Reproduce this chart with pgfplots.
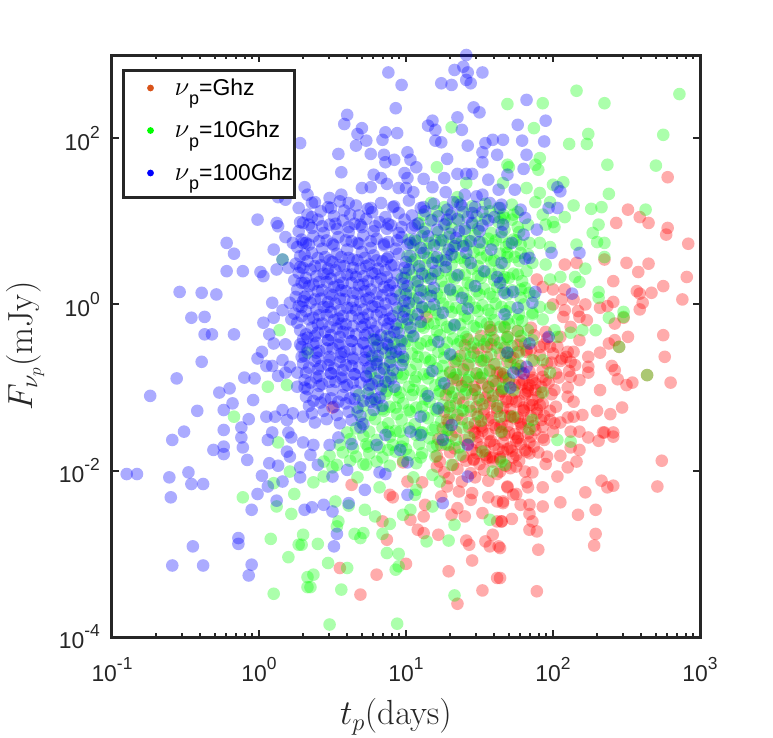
\RequirePackage{fix-cm}
\documentclass[border=0pt]{standalone}
\usepackage[no-math]{fontspec}
\setmainfont{Liberation Sans}
\usepackage{pgfplots}
\pgfplotsset{compat=1.18}
\usepackage{pgfplotstable}
\definecolor{axgray}{RGB}{38,38,38}
\definecolor{legred}{RGB}{217,83,25}
\newcommand{\tp}[1]{10\raisebox{12bp}{\fontsize{17.5}{17.5}\selectfont #1}}
\newcommand{\lsub}[1]{\raisebox{-9.5bp}{\fontsize{18}{18}\selectfont #1}}
\newcommand{\lnu}{{\fontsize{27}{27}\selectfont$\nu$}}

% values are log10(t_p/days) and log10(F/mJy)
\pgfplotstableread{
lx ly
2.78 1.53
2.51 1.14
2.59 1.05
2.65 0.98
2.43 0.98
2.78 0.92
2.77 0.84
2.92 0.73
2.50 0.50
2.58 0.39
2.65 0.49
2.35 0.54
2.41 0.28
2.75 0.22
2.91 0.33
2.88 0.06
2.57 0.16
2.59 0.13
2.67 0.14
2.61 0.02
2.59 -0.06
2.41 0.03
2.37 -0.02
2.32 -0.04
2.22 0.00
2.23 -0.19
2.18 -0.15
2.42 -0.23
2.48 -0.16
2.51 -0.39
2.75 -0.37
2.76 -0.63
2.80 -0.94
2.64 -0.85
2.54 -0.94
2.50 -0.97
2.44 -0.90
2.42 -0.79
2.40 -0.74
2.32 -0.58
2.38 -0.47
2.42 -0.43
2.45 -0.51
2.32 -1.03
2.24 -0.63
2.24 -0.75
2.24 -0.82
2.18 -0.91
2.15 -0.73
2.12 -0.87
2.10 -1.11
2.14 -1.17
2.20 -1.33
2.30 -1.28
2.39 -1.32
2.47 -1.24
2.34 -1.54
2.41 -1.54
2.14 -1.35
2.10 -1.36
2.05 -1.42
1.98 -1.39
1.93 -1.47
1.91 -1.21
1.88 -1.03
1.84 -0.97
1.80 -0.91
1.86 -0.91
1.93 -0.87
1.99 -0.70
2.06 -0.65
2.12 -0.69
2.14 -0.57
2.18 -0.43
2.12 -0.27
2.07 -0.15
2.08 -0.07
2.06 0.06
2.08 0.18
2.00 0.18
1.93 0.21
1.89 0.30
2.08 0.48
2.16 0.50
2.10 -0.57
1.98 -0.51
1.91 -0.51
1.82 -0.55
1.76 -0.57
1.71 -0.63
1.78 -0.81
1.82 -1.06
1.86 -1.21
1.80 -1.27
1.69 -1.17
1.66 -0.87
1.64 -0.82
1.71 -1.35
1.78 -1.42
1.64 -1.47
2.00 0.00
2.14 0.06
2.17 -0.08
2.74 -1.88
2.71 -2.19
2.41 -1.59
2.35 -1.54
2.31 -1.64
2.24 -1.60
2.18 -1.53
2.16 -1.89
2.10 -1.96
2.03 -2.07
2.05 -1.82
2.12 -1.72
2.18 -1.75
2.33 -2.12
2.37 -2.20
2.41 -2.18
2.22 -2.26
2.05 -2.38
2.17 -2.53
2.29 -2.47
2.29 -2.76
2.28 -2.90
1.93 -2.20
1.93 -2.43
1.84 -2.41
1.84 -2.52
1.86 -2.61
1.84 -2.71
1.89 -2.73
1.90 -2.95
1.89 -3.45
1.64 -2.93
1.64 -3.29
1.72 -2.58
1.65 -2.61
1.66 -2.37
1.78 -2.41
1.73 -2.29
1.69 -2.20
1.83 -2.20
1.82 -2.14
1.86 -2.02
1.81 -2.01
1.75 -1.95
1.95 -1.92
1.96 -1.83
1.90 -1.78
1.82 -1.77
1.71 -1.72
1.76 -1.60
1.93 -1.60
2.00 -1.53
2.12 -1.53
0.55 -3.17
0.69 -3.49
0.80 -3.25
1.00 -3.12
0.87 -2.83
0.84 -2.61
0.89 -2.29
0.91 -2.32
0.63 -2.17
1.13 -2.41
1.12 -2.55
1.03 -2.59
1.08 -2.71
1.12 -2.75
1.22 -2.77
1.29 -3.21
1.35 -3.60
1.41 -2.84
1.43 -2.89
1.45 -3.08
1.52 -3.44
1.62 -3.29
1.54 -2.85
1.59 -2.77
1.57 -2.91
1.63 -2.91
1.44 -2.35
1.35 -2.45
1.40 -2.55
1.31 -2.53
1.36 -2.25
1.28 -2.19
1.21 -1.95
1.11 -2.14
1.01 -2.13
0.98 -1.90
1.46 -1.87
1.54 -1.81
1.59 -1.84
1.64 -1.84
1.64 -2.01
1.69 -2.19
1.62 -2.37
1.66 -2.39
1.52 -2.51
1.62 -2.61
1.65 -2.61
1.46 -1.53
1.52 -1.48
0.50 -1.24
1.14 -0.15
1.57 -0.27
1.62 -0.82
1.35 -0.91
1.46 -0.99
1.55 -0.51
1.28 -1.39
1.58 -0.31
1.67 -0.27
1.76 -0.32
1.85 -0.28
1.95 -0.33
1.42 -0.42
1.51 -0.38
1.60 -0.43
1.69 -0.39
1.78 -0.44
1.87 -0.37
1.96 -0.41
2.05 -0.39
1.40 -0.49
1.49 -0.53
1.58 -0.48
1.67 -0.52
1.76 -0.49
1.85 -0.54
1.94 -0.48
2.03 -0.51
1.37 -0.62
1.46 -0.58
1.55 -0.63
1.64 -0.59
1.73 -0.64
1.82 -0.57
1.91 -0.61
2.00 -0.59
2.09 -0.63
1.33 -0.69
1.42 -0.73
1.51 -0.68
1.60 -0.72
1.69 -0.69
1.78 -0.74
1.87 -0.68
1.96 -0.71
2.05 -0.68
1.30 -0.82
1.39 -0.78
1.48 -0.83
1.57 -0.79
1.66 -0.84
1.75 -0.77
1.84 -0.81
1.93 -0.79
2.02 -0.83
2.11 -0.80
1.32 -0.89
1.41 -0.93
1.50 -0.88
1.59 -0.92
1.68 -0.89
1.77 -0.94
1.86 -0.88
1.95 -0.91
2.04 -0.88
1.29 -1.02
1.38 -0.98
1.47 -1.03
1.56 -0.99
1.65 -1.04
1.74 -0.97
1.83 -1.01
1.92 -0.99
2.01 -1.03
2.10 -1.00
1.27 -1.09
1.36 -1.13
1.45 -1.08
1.54 -1.12
1.63 -1.09
1.72 -1.14
1.81 -1.08
1.90 -1.11
1.99 -1.08
1.30 -1.22
1.39 -1.18
1.48 -1.23
1.57 -1.19
1.66 -1.24
1.75 -1.17
1.84 -1.21
1.93 -1.19
2.02 -1.23
1.26 -1.29
1.35 -1.33
1.44 -1.28
1.53 -1.32
1.62 -1.29
1.71 -1.34
1.80 -1.28
1.89 -1.31
1.98 -1.28
1.29 -1.42
1.38 -1.38
1.47 -1.43
1.56 -1.39
1.65 -1.44
1.74 -1.37
1.83 -1.41
1.92 -1.39
2.01 -1.43
1.25 -1.49
1.34 -1.53
1.43 -1.48
1.52 -1.52
1.61 -1.49
1.70 -1.54
1.79 -1.48
1.88 -1.51
1.22 -1.62
1.31 -1.58
1.40 -1.63
1.49 -1.59
1.58 -1.64
1.67 -1.57
1.76 -1.61
1.85 -1.59
1.94 -1.63
1.24 -1.69
1.33 -1.73
1.42 -1.68
1.51 -1.72
1.60 -1.69
1.69 -1.74
1.78 -1.68
1.87 -1.71
1.21 -1.82
1.30 -1.78
1.39 -1.83
1.48 -1.79
1.57 -1.84
1.66 -1.77
1.75 -1.81
1.84 -1.79
1.23 -1.89
1.32 -1.93
1.41 -1.88
1.50 -1.92
1.59 -1.89
1.68 -1.94
1.77 -1.88
1.26 -2.02
1.35 -1.98
1.44 -2.03
1.53 -1.99
1.62 -2.04
1.71 -1.97
1.29 -2.09
1.38 -2.13
1.47 -2.08
1.56 -2.12
1.24 -2.31
1.45 -2.27
1.56 -2.32
1.75 -2.28
1.52 -0.95
1.61 -0.96
1.70 -0.94
1.79 -0.96
1.88 -0.95
1.97 -0.94
1.50 -1.15
1.59 -1.16
1.68 -1.14
1.77 -1.16
1.86 -1.15
1.49 -1.35
1.58 -1.36
1.67 -1.34
1.76 -1.36
1.85 -1.35
1.94 -1.34
1.47 -1.55
1.56 -1.56
1.65 -1.54
1.74 -1.56
1.83 -1.55
1.45 -1.75
1.54 -1.76
1.63 -1.74
1.72 -1.76
1.81 -1.75
1.56 -1.06
1.65 -1.05
1.74 -1.06
1.83 -1.04
1.92 -1.06
1.53 -1.26
1.62 -1.25
1.71 -1.26
1.80 -1.24
1.89 -1.26
1.51 -1.46
1.60 -1.45
1.69 -1.46
1.78 -1.44
1.87 -1.46
1.48 -1.66
1.57 -1.65
1.66 -1.66
1.75 -1.64
1.84 -1.66
1.46 -1.86
1.55 -1.85
1.64 -1.86
1.73 -1.84
}\redtab

\pgfplotstableread{
lx ly
1.31 2.13
1.21 1.65
1.69 2.41
1.69 1.68
1.66 1.46
1.64 1.04
1.35 1.29
1.41 1.46
2.16 2.57
2.86 2.53
2.35 2.42
1.93 2.42
1.87 2.12
2.24 2.05
2.11 1.93
2.23 1.93
2.75 2.04
2.37 1.68
2.70 1.67
1.91 1.76
1.90 1.62
1.88 1.68
1.70 1.65
2.38 1.33
2.07 1.47
2.00 1.44
2.14 1.19
2.26 1.15
2.33 1.17
2.63 1.14
2.31 0.96
1.82 1.40
1.91 1.34
1.88 1.23
1.98 1.23
1.93 1.08
2.08 1.05
2.00 0.99
1.73 1.08
1.67 1.04
2.27 0.86
2.35 0.74
2.30 0.75
2.35 0.57
2.16 0.72
2.22 0.43
2.15 0.33
2.18 0.27
2.31 0.15
2.31 0.08
2.38 -0.16
2.48 -0.09
2.48 -0.15
2.64 -0.85
2.45 -0.51
2.29 -0.31
2.20 -0.31
2.12 -0.34
2.03 -0.39
2.05 0.33
1.98 0.30
1.95 0.48
1.86 0.50
1.84 0.74
1.91 0.74
1.98 0.69
2.01 0.93
1.95 0.96
1.83 0.96
1.76 0.93
1.73 0.78
1.78 0.62
1.69 0.62
1.66 0.30
1.76 0.36
1.84 0.14
1.78 0.18
1.91 -0.03
1.86 -0.12
1.98 -0.04
1.93 -0.18
1.76 -0.18
1.69 -0.18
1.69 -0.39
1.83 -0.31
1.86 -0.43
2.01 -0.31
1.93 -0.67
1.98 -0.82
1.86 -0.67
1.76 -0.72
1.69 -0.58
1.66 -1.00
1.73 -1.03
1.73 -1.35
1.86 -1.39
1.64 -1.35
1.93 -1.06
2.03 -1.63
2.12 -1.65
1.84 -1.50
1.67 -1.93
1.65 -1.53
0.16 0.54
0.14 -0.31
0.06 -0.99
0.19 -0.97
-0.17 -1.35
0.33 -0.58
-0.11 -2.32
0.12 -2.43
0.22 -2.52
0.24 -2.28
0.10 -2.15
0.08 -2.82
0.30 -2.77
0.27 -2.89
0.20 -3.04
0.10 -3.48
0.33 -3.28
0.33 -3.40
0.13 -1.66
0.21 -2.01
0.48 -3.85
0.94 -3.84
0.35 -3.40
0.37 -3.25
0.47 -3.11
0.60 -3.17
0.56 -3.43
0.40 -2.88
0.29 -2.89
0.65 -2.76
0.71 -2.75
0.69 -2.81
0.84 -2.76
0.87 -2.99
0.95 -3.00
0.93 -3.19
0.95 -3.15
1.14 -2.85
1.29 -2.84
1.33 -2.65
1.33 -3.50
1.57 -2.59
0.52 -2.37
0.53 -2.67
0.54 -2.61
0.61 -2.42
0.72 -2.47
0.79 -2.55
0.89 -2.64
0.82 -2.20
0.73 -1.93
0.67 -2.08
0.37 -2.14
0.44 -2.07
0.50 -1.96
0.74 -1.71
0.88 -1.75
0.97 -1.71
1.03 -2.47
0.98 -2.53
1.06 -2.29
1.18 -2.05
1.23 -2.13
1.21 -1.69
1.31 -1.93
1.29 -1.69
1.37 -1.81
1.52 -1.77
1.59 -2.01
1.65 -1.89
0.96 -1.53
1.10 -1.54
1.18 -1.51
1.28 -1.51
0.88 -1.53
0.60 -1.54
1.05 -2.08
1.07 -2.23
1.18 -2.43
1.10 -1.84
1.17 1.22
1.26 1.17
1.35 1.23
1.45 1.18
1.54 1.21
1.63 1.16
1.72 1.20
1.12 1.08
1.21 1.12
1.30 1.07
1.39 1.11
1.48 1.06
1.57 1.12
1.66 1.08
1.76 1.11
1.09 0.98
1.18 1.02
1.27 0.97
1.36 1.01
1.45 0.96
1.54 1.03
1.63 0.99
1.72 1.02
1.13 0.91
1.22 0.87
1.31 0.92
1.40 0.88
1.49 0.91
1.58 0.86
1.67 0.90
1.77 0.87
1.02 0.78
1.11 0.82
1.20 0.77
1.29 0.81
1.38 0.76
1.47 0.83
1.56 0.79
1.65 0.81
1.75 0.77
1.05 0.71
1.14 0.67
1.23 0.72
1.32 0.68
1.41 0.71
1.50 0.66
1.59 0.72
1.68 0.69
1.78 0.72
1.01 0.58
1.10 0.62
1.19 0.57
1.28 0.61
1.37 0.56
1.46 0.63
1.55 0.59
1.64 0.61
1.74 0.57
1.83 0.60
1.04 0.51
1.13 0.47
1.22 0.52
1.31 0.48
1.40 0.51
1.49 0.46
1.58 0.52
1.67 0.49
1.77 0.52
1.00 0.38
1.09 0.42
1.18 0.37
1.27 0.41
1.36 0.36
1.45 0.43
1.54 0.39
1.63 0.41
1.73 0.37
1.82 0.40
0.97 0.31
1.06 0.27
1.15 0.32
1.24 0.28
1.33 0.31
1.42 0.26
1.51 0.32
1.60 0.29
1.70 0.32
1.79 0.28
0.99 0.18
1.08 0.22
1.17 0.17
1.26 0.21
1.35 0.16
1.44 0.23
1.53 0.19
1.62 0.21
1.72 0.17
1.81 0.20
0.96 0.11
1.05 0.07
1.14 0.12
1.23 0.08
1.32 0.11
1.41 0.06
1.50 0.12
1.59 0.09
1.69 0.12
1.78 0.08
1.87 0.10
0.98 -0.02
1.07 0.02
1.16 -0.03
1.25 0.01
1.34 -0.04
1.43 0.03
1.52 -0.01
1.61 0.01
1.71 -0.03
1.80 0.00
0.95 -0.09
1.04 -0.13
1.13 -0.08
1.22 -0.12
1.31 -0.09
1.40 -0.14
1.49 -0.08
1.58 -0.11
1.68 -0.08
1.77 -0.12
1.86 -0.10
0.97 -0.22
1.06 -0.18
1.15 -0.23
1.24 -0.19
1.33 -0.24
1.42 -0.17
1.51 -0.21
1.60 -0.19
1.70 -0.23
1.79 -0.20
0.94 -0.29
1.03 -0.33
1.12 -0.28
1.21 -0.32
1.30 -0.29
1.39 -0.34
1.48 -0.28
1.57 -0.31
1.67 -0.28
1.76 -0.32
0.78 -0.42
0.87 -0.38
0.96 -0.43
1.05 -0.39
1.14 -0.44
1.23 -0.37
1.32 -0.41
1.41 -0.39
1.50 -0.43
1.59 -0.40
1.69 -0.42
1.78 -0.38
0.81 -0.49
0.90 -0.53
0.99 -0.48
1.08 -0.52
1.17 -0.49
1.26 -0.54
1.35 -0.48
1.44 -0.51
1.53 -0.48
1.62 -0.52
1.72 -0.50
1.81 -0.47
0.77 -0.62
0.86 -0.58
0.95 -0.63
1.04 -0.59
1.13 -0.64
1.22 -0.57
1.31 -0.61
1.40 -0.59
1.49 -0.63
1.58 -0.60
1.68 -0.62
1.77 -0.58
0.80 -0.69
0.89 -0.73
0.98 -0.68
1.07 -0.72
1.16 -0.69
1.25 -0.74
1.34 -0.68
1.43 -0.71
1.52 -0.68
1.61 -0.72
1.71 -0.70
0.76 -0.82
0.85 -0.78
0.94 -0.83
1.03 -0.79
1.12 -0.84
1.21 -0.77
1.30 -0.81
1.39 -0.79
1.48 -0.83
1.57 -0.80
1.67 -0.82
1.76 -0.78
0.79 -0.89
0.88 -0.93
0.97 -0.88
1.06 -0.92
1.15 -0.89
1.24 -0.94
1.33 -0.88
1.42 -0.91
1.51 -0.88
1.60 -0.92
1.70 -0.90
0.75 -1.02
0.84 -0.98
0.93 -1.03
1.02 -0.99
1.11 -1.04
1.20 -0.97
1.29 -1.01
1.38 -0.99
1.47 -1.03
1.56 -1.00
1.66 -1.02
0.68 -1.09
0.77 -1.13
0.86 -1.08
0.95 -1.12
1.04 -1.09
1.13 -1.14
1.22 -1.08
1.31 -1.11
1.40 -1.08
1.49 -1.12
1.59 -1.10
0.71 -1.22
0.80 -1.18
0.89 -1.23
0.98 -1.19
1.07 -1.24
1.16 -1.17
1.25 -1.21
1.34 -1.19
1.43 -1.23
1.52 -1.20
1.62 -1.22
0.67 -1.29
0.76 -1.33
0.85 -1.28
0.94 -1.32
1.03 -1.29
1.12 -1.34
1.21 -1.28
1.30 -1.31
1.39 -1.28
1.48 -1.32
0.70 -1.42
0.79 -1.38
0.88 -1.43
0.97 -1.39
1.06 -1.44
1.15 -1.37
1.24 -1.41
1.33 -1.39
1.42 -1.43
1.51 -1.40
0.66 -1.49
0.75 -1.53
0.84 -1.48
0.93 -1.52
1.02 -1.49
1.11 -1.54
1.20 -1.48
1.29 -1.51
1.38 -1.48
0.62 -1.62
0.71 -1.58
0.80 -1.63
0.89 -1.59
0.98 -1.64
1.07 -1.57
1.16 -1.61
1.25 -1.59
1.34 -1.63
1.43 -1.60
0.55 -1.69
0.64 -1.73
0.73 -1.68
0.82 -1.72
0.91 -1.69
1.00 -1.74
1.09 -1.68
1.18 -1.71
1.27 -1.68
1.36 -1.72
0.48 -1.82
0.57 -1.78
0.66 -1.83
0.75 -1.79
0.84 -1.84
0.93 -1.77
1.02 -1.81
1.11 -1.79
1.20 -1.83
0.44 -1.89
0.53 -1.93
0.62 -1.88
0.71 -1.92
0.80 -1.89
0.89 -1.94
0.98 -1.88
1.07 -1.91
1.07 0.76
1.16 0.74
1.25 0.77
1.34 0.73
1.43 0.76
1.52 0.74
1.61 0.77
1.70 0.73
1.06 0.54
1.15 0.56
1.24 0.53
1.33 0.57
1.42 0.54
1.51 0.56
1.60 0.53
1.69 0.57
1.04 0.36
1.13 0.34
1.22 0.37
1.31 0.33
1.40 0.36
1.49 0.34
1.58 0.37
1.67 0.33
1.03 0.14
1.12 0.16
1.21 0.13
1.30 0.17
1.39 0.14
1.48 0.16
1.57 0.13
1.66 0.17
1.02 -0.06
1.11 -0.04
1.20 -0.07
1.29 -0.03
1.38 -0.06
1.47 -0.04
1.56 -0.07
1.65 -0.03
1.01 -0.24
1.10 -0.26
1.19 -0.23
1.28 -0.27
1.37 -0.24
1.46 -0.26
1.55 -0.23
1.64 -0.27
0.92 -0.46
1.01 -0.44
1.10 -0.47
1.19 -0.43
1.28 -0.46
1.37 -0.44
1.46 -0.47
1.55 -0.43
1.64 -0.46
0.90 -0.64
0.99 -0.66
1.08 -0.63
1.17 -0.67
1.26 -0.64
1.35 -0.66
1.44 -0.63
1.53 -0.67
0.89 -0.86
0.98 -0.84
1.07 -0.87
1.16 -0.83
1.25 -0.86
1.34 -0.84
1.43 -0.87
1.52 -0.83
0.87 -1.04
0.96 -1.06
1.05 -1.03
1.14 -1.07
1.23 -1.04
1.32 -1.06
1.41 -1.03
0.84 -1.26
0.93 -1.24
1.02 -1.27
1.11 -1.23
1.20 -1.26
1.29 -1.24
1.38 -1.27
}\greentab

\pgfplotstableread{
lx ly
0.28 1.94
0.13 1.29
0.18 1.26
-0.01 1.02
0.12 0.98
0.27 1.16
0.28 0.99
0.31 1.41
0.33 1.32
1.41 3.00
0.88 2.79
1.33 2.82
1.39 2.86
1.42 2.79
1.52 2.79
0.97 2.64
1.24 2.66
1.31 2.64
1.41 2.70
1.44 2.66
0.93 2.36
0.60 2.28
0.58 2.17
1.46 2.37
1.50 2.31
1.35 2.25
1.18 2.21
1.15 2.15
1.20 2.10
1.38 2.10
0.70 2.12
0.67 2.05
0.73 1.97
0.66 1.91
0.86 2.07
0.94 2.06
0.84 1.98
1.20 1.97
1.24 1.95
1.42 1.91
1.54 1.94
1.59 1.98
1.66 1.98
0.54 1.81
0.76 1.81
0.85 1.80
0.92 1.74
0.86 1.71
1.01 1.83
1.03 1.74
1.07 1.65
1.28 1.75
1.52 1.83
1.52 1.71
1.62 1.80
0.56 1.59
0.78 1.56
0.83 1.52
0.87 1.45
0.70 1.40
0.76 1.41
0.99 1.58
1.01 1.52
1.12 1.51
1.26 1.52
1.35 1.57
1.41 1.57
1.45 1.57
1.56 1.50
0.36 1.22
0.36 1.05
0.48 1.28
0.49 1.16
0.56 1.32
0.61 1.22
0.62 1.08
0.76 1.16
0.91 1.17
0.95 1.40
1.00 1.40
1.05 1.35
1.12 1.17
1.18 1.41
1.27 1.35
1.32 1.23
1.40 1.32
1.52 1.32
1.63 1.38
1.64 1.16
1.69 1.56
1.82 2.46
1.95 2.21
1.76 2.16
1.79 1.97
1.94 1.96
1.82 1.80
1.80 1.63
1.74 1.38
2.05 1.36
2.03 1.41
1.78 1.14
1.81 1.04
1.97 1.16
2.03 1.16
1.65 1.20
1.66 0.96
0.13 0.94
-0.22 0.74
-0.17 0.61
-0.22 0.40
-0.11 0.40
0.01 0.39
0.03 0.34
0.10 0.66
0.16 0.54
0.12 0.42
0.20 0.44
0.18 0.81
0.23 0.74
0.30 0.74
0.31 0.60
0.28 0.45
-0.54 0.15
-0.39 0.14
-0.29 0.12
-0.46 -0.16
-0.37 -0.15
-0.37 -0.36
-0.32 -0.36
-0.17 -0.36
-0.39 -0.69
-0.56 -0.89
-0.74 -1.10
-0.42 -1.28
-0.51 -1.53
-0.27 -1.06
-0.20 -1.01
-0.18 -1.19
-0.24 -1.27
-0.07 -1.38
-0.04 -1.15
-0.10 -0.88
-0.03 -0.89
0.02 -0.57
-0.01 -0.65
0.09 0.02
0.16 -0.07
0.10 -0.16
0.03 -0.22
0.07 -0.36
0.10 -0.47
0.18 -0.48
0.22 -0.18
0.21 0.02
0.29 -0.03
0.31 0.09
0.31 0.26
0.05 -0.74
0.09 -0.74
0.16 -0.67
0.21 -0.75
0.18 -0.82
0.26 -0.82
0.13 -0.86
0.26 -0.99
0.31 -1.00
0.33 -0.40
0.28 -0.48
0.29 -0.63
0.05 -1.35
0.11 -1.35
0.16 -1.27
0.23 -1.31
0.30 -1.35
0.19 -1.39
-0.12 -1.48
-0.24 -1.51
0.09 -1.54
0.20 -1.54
-0.90 -2.04
-0.83 -2.04
-0.61 -2.08
-0.60 -2.32
-0.48 -2.02
-0.46 -2.16
-0.38 -2.16
-0.59 -1.63
-0.31 -1.75
-0.24 -1.80
-0.24 -1.71
-0.12 -1.60
-0.11 -1.72
-0.08 -1.87
-0.01 -2.28
-0.05 -2.47
0.02 -2.06
0.06 -2.19
0.07 -1.91
0.13 -1.94
0.06 -1.63
0.16 -2.13
0.12 -2.36
0.19 -1.77
0.21 -1.83
0.22 -1.60
0.28 -1.96
0.28 -2.08
0.31 -2.47
-0.45 -2.91
-0.59 -3.14
-0.38 -3.14
-0.14 -2.81
-0.14 -2.88
-0.05 -3.13
-0.07 -3.26
0.51 -2.91
0.53 -2.76
0.50 -2.49
0.61 -2.39
0.44 -2.41
0.36 -2.44
0.72 -2.23
1.01 -2.29
1.25 -2.39
0.82 -2.02
0.86 -2.04
0.60 -1.99
0.50 -2.07
0.40 -1.93
0.35 -1.81
0.37 -1.69
0.30 -1.66
0.48 -1.69
0.54 -1.60
0.63 -1.68
0.69 -1.48
0.80 -1.69
0.86 -1.57
1.01 -1.90
0.96 -1.75
1.03 -1.53
1.10 -1.57
1.25 -1.63
1.42 -1.69
1.42 -2.07
1.31 -1.45
1.65 0.87
1.80 0.84
1.72 0.74
1.89 0.90
1.99 0.62
2.18 0.62
1.81 0.55
1.84 0.56
1.65 0.50
1.64 0.26
1.73 0.15
1.88 0.15
2.13 0.13
1.86 0.02
1.67 0.14
1.76 -0.04
1.67 -0.12
1.97 -0.39
1.84 -0.47
1.69 -0.58
1.82 -0.75
1.73 -0.82
1.80 -0.83
1.71 -1.00
0.38 1.23
0.47 1.17
0.55 1.24
0.66 1.19
0.74 1.15
0.83 1.22
0.92 1.18
1.02 1.25
1.10 1.16
1.19 1.21
1.28 1.14
1.37 1.20
1.47 1.17
0.33 1.08
0.42 1.12
0.51 1.06
0.58 1.13
0.68 1.07
0.77 1.11
0.86 1.05
0.95 1.10
1.04 1.07
1.13 1.12
1.22 1.06
1.31 1.09
1.42 1.05
1.52 1.11
0.30 0.98
0.40 1.02
0.48 0.96
0.57 1.01
0.65 0.97
0.73 1.03
0.82 0.99
0.90 0.95
0.99 1.02
1.08 0.97
1.17 1.01
1.26 0.96
1.35 1.03
1.45 0.98
1.56 1.01
0.27 0.88
0.36 0.92
0.44 0.86
0.53 0.91
0.61 0.87
0.70 0.93
0.78 0.88
0.87 0.91
0.95 0.86
1.04 0.92
1.12 0.87
1.21 0.90
1.30 0.85
1.40 0.91
1.50 0.88
0.29 0.78
0.37 0.82
0.46 0.77
0.54 0.81
0.63 0.76
0.71 0.83
0.80 0.79
0.88 0.75
0.97 0.81
1.06 0.78
1.15 0.82
1.24 0.77
1.34 0.80
1.44 0.76
0.26 0.69
0.34 0.72
0.43 0.67
0.51 0.71
0.60 0.66
0.68 0.73
0.76 0.68
0.85 0.71
0.93 0.67
1.01 0.72
1.10 0.68
1.19 0.71
1.29 0.66
1.39 0.70
0.28 0.58
0.36 0.62
0.45 0.57
0.53 0.61
0.61 0.56
0.70 0.63
0.78 0.59
0.87 0.55
0.95 0.61
1.03 0.58
1.12 0.62
1.21 0.57
1.31 0.60
0.25 0.49
0.33 0.52
0.42 0.47
0.50 0.51
0.58 0.46
0.67 0.53
0.75 0.48
0.84 0.52
0.92 0.47
1.00 0.51
1.09 0.46
1.18 0.50
1.27 0.53
0.27 0.38
0.35 0.42
0.44 0.37
0.52 0.41
0.60 0.36
0.69 0.43
0.77 0.38
0.86 0.41
0.94 0.36
1.02 0.42
1.11 0.37
1.20 0.40
0.24 0.29
0.32 0.32
0.41 0.27
0.49 0.31
0.57 0.26
0.66 0.33
0.74 0.28
0.83 0.31
0.91 0.26
0.99 0.32
1.08 0.28
1.17 0.31
0.26 0.18
0.34 0.22
0.43 0.17
0.51 0.21
0.59 0.16
0.68 0.23
0.76 0.18
0.85 0.21
0.93 0.16
1.01 0.22
1.10 0.17
1.19 0.20
0.25 0.09
0.33 0.12
0.42 0.07
0.50 0.11
0.58 0.06
0.67 0.13
0.75 0.08
0.84 0.11
0.92 0.06
1.00 0.12
1.09 0.08
1.17 0.10
0.27 -0.02
0.35 0.02
0.44 -0.03
0.52 0.01
0.60 -0.04
0.69 0.03
0.77 -0.02
0.86 0.01
0.94 -0.04
1.02 0.02
1.11 -0.03
1.19 0.00
0.24 -0.11
0.32 -0.08
0.41 -0.13
0.49 -0.09
0.57 -0.14
0.66 -0.07
0.74 -0.12
0.83 -0.09
0.91 -0.14
0.99 -0.08
1.08 -0.12
0.26 -0.22
0.34 -0.18
0.43 -0.23
0.51 -0.19
0.59 -0.24
0.68 -0.17
0.76 -0.22
0.85 -0.19
0.93 -0.24
1.01 -0.18
1.10 -0.21
0.28 -0.31
0.36 -0.28
0.45 -0.33
0.53 -0.29
0.61 -0.34
0.70 -0.27
0.78 -0.32
0.87 -0.29
0.95 -0.34
1.03 -0.28
0.30 -0.42
0.38 -0.38
0.47 -0.43
0.55 -0.39
0.63 -0.44
0.72 -0.37
0.80 -0.42
0.89 -0.39
0.97 -0.44
1.05 -0.38
0.29 -0.51
0.37 -0.48
0.46 -0.53
0.54 -0.49
0.62 -0.54
0.71 -0.47
0.79 -0.52
0.88 -0.49
0.96 -0.54
0.31 -0.62
0.39 -0.58
0.48 -0.63
0.56 -0.59
0.64 -0.64
0.73 -0.57
0.81 -0.62
0.90 -0.59
0.98 -0.63
0.30 -0.71
0.38 -0.68
0.47 -0.73
0.55 -0.69
0.63 -0.74
0.72 -0.67
0.80 -0.72
0.89 -0.69
0.97 -0.73
0.32 -0.82
0.40 -0.78
0.49 -0.83
0.57 -0.79
0.65 -0.84
0.74 -0.77
0.82 -0.82
0.91 -0.79
0.31 -0.91
0.39 -0.88
0.48 -0.93
0.56 -0.89
0.64 -0.94
0.73 -0.87
0.81 -0.92
0.90 -0.89
0.33 -1.02
0.41 -0.98
0.50 -1.03
0.58 -0.99
0.66 -1.04
0.75 -0.97
0.83 -1.02
0.92 -0.99
0.32 -1.11
0.40 -1.08
0.49 -1.13
0.57 -1.09
0.65 -1.14
0.74 -1.07
0.82 -1.12
0.34 -1.22
0.42 -1.18
0.51 -1.23
0.59 -1.19
0.67 -1.24
0.76 -1.17
0.84 -1.22
0.36 -1.31
0.44 -1.28
0.53 -1.33
0.61 -1.29
0.69 -1.34
0.78 -1.27
0.38 -1.42
0.46 -1.38
0.55 -1.43
0.63 -1.39
0.71 -1.44
0.40 0.56
0.48 0.53
0.56 0.57
0.64 0.54
0.72 0.56
0.80 0.53
0.88 0.57
0.39 0.34
0.47 0.37
0.55 0.33
0.63 0.36
0.71 0.34
0.79 0.37
0.87 0.33
0.40 0.16
0.48 0.13
0.56 0.17
0.64 0.14
0.72 0.16
0.80 0.13
0.88 0.17
0.39 -0.06
0.47 -0.03
0.55 -0.07
0.63 -0.04
0.71 -0.06
0.79 -0.03
0.87 -0.07
0.40 -0.24
0.48 -0.27
0.56 -0.23
0.64 -0.26
0.72 -0.24
0.80 -0.27
0.88 -0.23
0.39 -0.46
0.47 -0.43
0.55 -0.47
0.63 -0.44
0.71 -0.46
0.79 -0.43
0.87 -0.47
0.40 -0.64
0.48 -0.67
0.56 -0.63
0.64 -0.66
0.72 -0.64
0.80 -0.67
0.41 -0.86
0.49 -0.83
0.57 -0.87
0.65 -0.84
0.73 -0.86
0.34 0.96
0.43 0.94
0.52 0.97
0.61 0.93
0.69 0.96
0.79 0.94
0.88 0.97
0.97 0.93
1.06 0.95
0.32 0.74
0.41 0.76
0.50 0.73
0.59 0.77
0.67 0.74
0.76 0.76
0.85 0.73
0.94 0.77
1.03 0.74
0.30 0.44
0.38 0.46
0.47 0.43
0.55 0.47
0.64 0.44
0.73 0.46
0.81 0.43
0.90 0.47
0.99 0.44
0.29 0.26
0.37 0.24
0.46 0.27
0.54 0.23
0.63 0.26
0.71 0.24
0.80 0.27
0.89 0.23
0.98 0.25
0.30 0.04
0.38 0.06
0.47 0.03
0.55 0.07
0.64 0.04
0.73 0.06
0.81 0.03
0.90 0.07
0.99 0.04
0.29 -0.14
0.37 -0.16
0.46 -0.13
0.54 -0.17
0.63 -0.14
0.71 -0.16
0.80 -0.13
0.89 -0.17
0.98 -0.15
0.32 -0.36
0.40 -0.34
0.49 -0.37
0.57 -0.33
0.66 -0.36
0.74 -0.34
0.83 -0.37
0.92 -0.33
0.33 -0.54
0.41 -0.56
0.50 -0.53
0.58 -0.57
0.67 -0.54
0.75 -0.56
0.84 -0.53
0.93 -0.57
0.34 -0.76
0.42 -0.74
0.51 -0.77
0.59 -0.73
0.68 -0.76
0.76 -0.74
0.85 -0.77
0.35 -0.94
0.43 -0.96
0.52 -0.93
0.60 -0.97
0.69 -0.94
0.77 -0.96
0.86 -0.93
0.37 -1.16
0.45 -1.14
0.54 -1.17
0.62 -1.13
0.71 -1.16
0.79 -1.14
1.28 1.02
1.36 0.88
1.45 1.10
1.52 0.95
1.60 1.05
1.33 0.70
1.41 0.62
1.50 0.75
1.58 0.66
1.27 0.45
1.35 0.35
1.44 0.50
1.53 0.40
1.62 0.33
1.30 0.18
1.38 0.08
1.47 0.22
1.25 -0.10
1.33 -0.25
1.42 -0.05
1.22 -0.45
1.30 -0.60
1.18 -0.80
1.26 -0.95
1.15 -1.10
1.22 -1.25
1.10 -1.35
1.57 1.22
1.48 1.30
1.38 1.18
}\bluetab

\begin{document}
\begin{tikzpicture}
\path[use as bounding box] (-112bp,-101bp) rectangle (661bp,637bp);
\begin{axis}[
  at={(0bp,0bp)}, anchor=south west,
  scale only axis, width=588bp, height=582bp,
  xmin=-1, xmax=3, ymin=-4, ymax=3,
  clip=false,
  axis line style={line width=3bp, draw=axgray},
  tick style={line width=2bp, draw=axgray},
  major tick length=7bp, minor tick length=4bp,
  tick align=inside,
  xtick={-1,0,1,2,3},
  xticklabels={\tp{-1},\tp{0},\tp{1},\tp{2},\tp{3}},
  ytick={-4,-2,0,2},
  yticklabels={\tp{-4},\tp{-2},\tp{0},\tp{2}},
  minor xtick={-0.699,-0.523,-0.398,-0.301,-0.222,-0.155,-0.097,-0.046,
    0.301,0.477,0.602,0.699,0.778,0.845,0.903,0.954,
    1.301,1.477,1.602,1.699,1.778,1.845,1.903,1.954,
    2.301,2.477,2.602,2.699,2.778,2.845,2.903,2.954},
  tick label style={font=\fontsize{23}{27}\selectfont, text=axgray, inner sep=0pt},
  xticklabel style={yshift=-20bp},
  yticklabel style={xshift=-12bp},
  xlabel={$t_p(\mathrm{days})$},
  ylabel={$F_{\nu_p}(\mathrm{mJy})$},
  xlabel style={at={(axis description cs:0.483,-0.1512)}, anchor=base,
    font=\fontsize{35}{40}\selectfont, text=axgray},
  ylabel style={at={(axis description cs:-0.136,0.5)}, anchor=base,
    font=\fontsize{35}{40}\selectfont, text=axgray},
  legend style={at={(axis description cs:0.0162,0.9768)}, anchor=north west,
    draw=axgray, line width=3bp, fill=white,
    inner xsep=2bp, inner ysep=3bp, row sep=6.5bp, column sep=0bp,
    font=\fontsize{23}{27}\selectfont, text=black,
    cells={anchor=base west},
    nodes={inner sep=0pt, text height=22bp, text depth=14bp}},
]
\addplot[only marks, mark=*, mark size=6.3bp, forget plot,
  mark options={draw opacity=0, line width=0pt, fill=red, fill opacity=0.33}]
  table[x=lx, y=ly]{\redtab};
\addplot[only marks, mark=*, mark size=6.3bp, forget plot,
  mark options={draw opacity=0, line width=0pt, fill=green, fill opacity=0.33}]
  table[x=lx, y=ly]{\greentab};
\addplot[only marks, mark=*, mark size=6.3bp, forget plot,
  mark options={draw opacity=0, line width=0pt, fill=blue, fill opacity=0.33}]
  table[x=lx, y=ly]{\bluetab};
\addlegendimage{legend image code/.code={\path[draw=none] (0bp,-2bp) rectangle (49.5bp,2bp); \path[draw=none, fill=legred] (25.5bp,7bp) circle (3.4bp);}}
\addlegendentry{\lnu\lsub{p}=Ghz}
\addlegendimage{legend image code/.code={\path[draw=none] (0bp,-2bp) rectangle (49.5bp,2bp); \path[draw=none, fill=green] (25.5bp,7bp) circle (3.4bp);}}
\addlegendentry{\lnu\lsub{p}=10Ghz}
\addlegendimage{legend image code/.code={\path[draw=none] (0bp,-2bp) rectangle (49.5bp,2bp); \path[draw=none, fill=blue] (25.5bp,7bp) circle (3.4bp);}}
\addlegendentry{\lnu\lsub{p}=100Ghz}
\end{axis}
\end{tikzpicture}
\end{document}
